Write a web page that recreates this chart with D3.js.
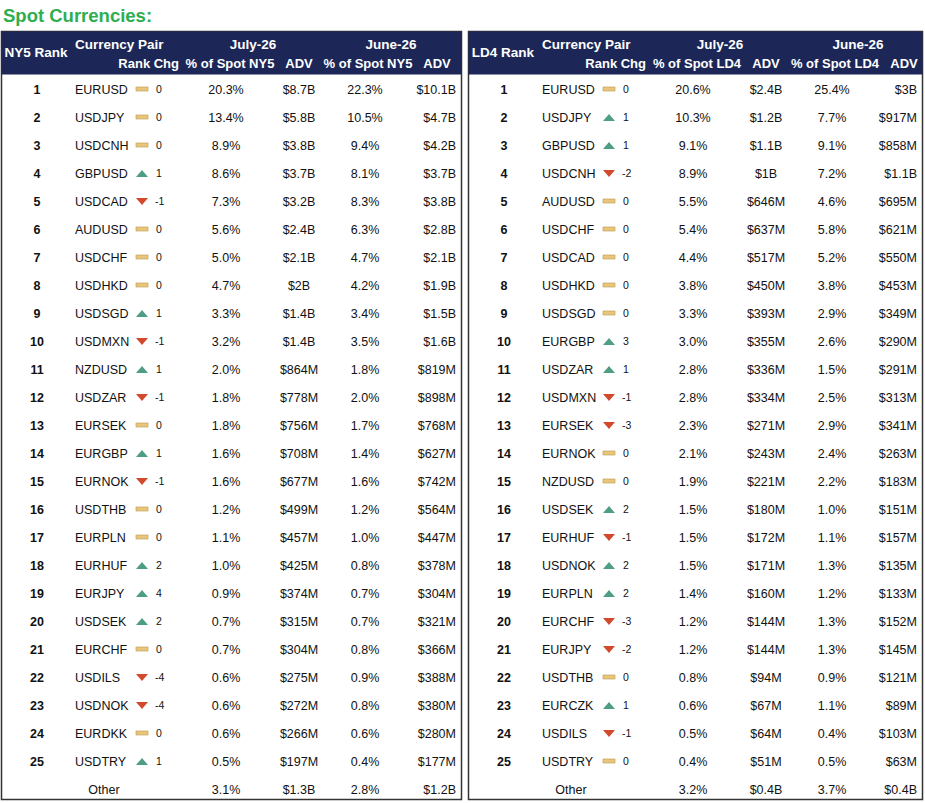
<!DOCTYPE html><html><head><meta charset="utf-8"><script src="https://cdn.jsdelivr.net/npm/d3@7"></script>
<style>body{margin:0;background:#fff}text{font-family:Arial,"Liberation Sans",sans-serif}</style></head><body><svg id="c" width="925" height="803"></svg>
<script>
const nyPairs=["EURUSD","USDJPY","USDCNH","GBPUSD","USDCAD","AUDUSD","USDCHF","USDHKD","USDSGD","USDMXN","NZDUSD","USDZAR","EURSEK","EURGBP","EURNOK","USDTHB","EURPLN","EURHUF","EURJPY","USDSEK","EURCHF","USDILS","USDNOK","EURDKK","USDTRY"];
const nyChg=[0,0,0,1,-1,0,0,0,1,-1,1,-1,0,1,-1,0,0,2,4,2,0,-4,-4,0,1];
const nyJulPct=["20.3%","13.4%","8.9%","8.6%","7.3%","5.6%","5.0%","4.7%","3.3%","3.2%","2.0%","1.8%","1.8%","1.6%","1.6%","1.2%","1.1%","1.0%","0.9%","0.7%","0.7%","0.6%","0.6%","0.6%","0.5%"];
const nyJulAdv=["$8.7B","$5.8B","$3.8B","$3.7B","$3.2B","$2.4B","$2.1B","$2B","$1.4B","$1.4B","$864M","$778M","$756M","$708M","$677M","$499M","$457M","$425M","$374M","$315M","$304M","$275M","$272M","$266M","$197M"];
const nyJunPct=["22.3%","10.5%","9.4%","8.1%","8.3%","6.3%","4.7%","4.2%","3.4%","3.5%","1.8%","2.0%","1.7%","1.4%","1.6%","1.2%","1.0%","0.8%","0.7%","0.7%","0.8%","0.9%","0.8%","0.6%","0.4%"];
const nyJunAdv=["$10.1B","$4.7B","$4.2B","$3.7B","$3.8B","$2.8B","$2.1B","$1.9B","$1.5B","$1.6B","$819M","$898M","$768M","$627M","$742M","$564M","$447M","$378M","$304M","$321M","$366M","$388M","$380M","$280M","$177M"];
const nyOther=["3.1%","$1.3B","2.8%","$1.2B"];
const ldPairs=["EURUSD","USDJPY","GBPUSD","USDCNH","AUDUSD","USDCHF","USDCAD","USDHKD","USDSGD","EURGBP","USDZAR","USDMXN","EURSEK","EURNOK","NZDUSD","USDSEK","EURHUF","USDNOK","EURPLN","EURCHF","EURJPY","USDTHB","EURCZK","USDILS","USDTRY"];
const ldChg=[0,1,1,-2,0,0,0,0,0,3,1,-1,-3,0,0,2,-1,2,2,-3,-2,0,1,-1,0];
const ldJulPct=["20.6%","10.3%","9.1%","8.9%","5.5%","5.4%","4.4%","3.8%","3.3%","3.0%","2.8%","2.8%","2.3%","2.1%","1.9%","1.5%","1.5%","1.5%","1.4%","1.2%","1.2%","0.8%","0.6%","0.5%","0.4%"];
const ldJulAdv=["$2.4B","$1.2B","$1.1B","$1B","$646M","$637M","$517M","$450M","$393M","$355M","$336M","$334M","$271M","$243M","$221M","$180M","$172M","$171M","$160M","$144M","$144M","$94M","$67M","$64M","$51M"];
const ldJunPct=["25.4%","7.7%","9.1%","7.2%","4.6%","5.8%","5.2%","3.8%","2.9%","2.6%","1.5%","2.5%","2.9%","2.4%","2.2%","1.0%","1.1%","1.3%","1.2%","1.3%","1.3%","0.9%","1.1%","0.4%","0.5%"];
const ldJunAdv=["$3B","$917M","$858M","$1.1B","$695M","$621M","$550M","$453M","$349M","$290M","$291M","$313M","$341M","$263M","$183M","$151M","$157M","$135M","$133M","$152M","$145M","$121M","$89M","$103M","$63M"];
const ldOther=["3.2%","$0.4B","3.7%","$0.4B"];

const svg=d3.select("#c");
svg.append("text").attr("x",3).attr("y",22).attr("fill","#2eae4f").attr("font-size",18.5).attr("font-weight","bold").text("Spot Currencies:");
const y=d3.scaleLinear().domain([1,25]).range([89,761]);
function panel(ox,w,loc,pairs,chg,jp,ja,np,na,oth){
  const g=svg.append("g").attr("transform",`translate(${ox},0)`);
  g.append("rect").attr("x",0.5).attr("y",31.5).attr("width",w).attr("height",768).attr("fill","#fff").attr("stroke","#333").attr("stroke-width",1.5);
  g.append("rect").attr("x",0.5).attr("y",31.5).attr("width",w).attr("height",43).attr("fill","#1c2757");
  const h=(x,yy,t,a,fs)=>g.append("text").attr("x",x).attr("y",yy).attr("text-anchor",a||"middle").attr("fill","#fff").attr("font-size",fs||13).attr("font-weight","bold").text(t);
  h(35,57,loc+" Rank","middle",13.5);h(74,49,"Currency Pair","start",13.5);h(178,68,"Rank Chg","end");
  h(252,49,"July-26","middle",13.5);h(229,68,"% of Spot "+loc);h(298,68,"ADV");
  h(390,49,"June-26","middle",13.5);h(367,68,"% of Spot "+loc);h(436,68,"ADV");
  const t=(x,yy,s,a,b)=>g.append("text").attr("x",x).attr("y",yy+4.5).attr("text-anchor",a||"middle").attr("font-size",12.5).attr("fill","#111").attr("font-weight",b?"bold":null).text(s);
  pairs.forEach((p,i)=>{const yy=y(i+1);
    t(36,yy,i+1,"middle",1);t(74,yy,p,"start");
    const c=chg[i],ix=141;
    if(c>0)g.append("path").attr("d",`M${ix-6},${yy+4}L${ix+6},${yy+4}L${ix},${yy-3}Z`).attr("fill","#4f9e84");
    else if(c<0)g.append("path").attr("d",`M${ix-6},${yy-3}L${ix+6},${yy-3}L${ix},${yy+4}Z`).attr("fill","#d2492c");
    else g.append("rect").attr("x",ix-6).attr("y",yy-2).attr("width",12).attr("height",4).attr("fill","#e8c77a").attr("stroke","#b89a50").attr("stroke-width",0.6);
    g.append("text").attr("x",c<0?154:155).attr("y",yy+4).attr("font-size",10.5).attr("fill","#111").text(c);
    t(225,yy,jp[i]);t(298,yy,ja[i]);t(364,yy,np[i]);t(w-5,yy,na[i],"end");
  });
  const yo=789;t(103,yo,"Other");t(225,yo,oth[0]);t(298,yo,oth[1]);t(364,yo,oth[2]);t(w-5,yo,oth[3],"end");
}
panel(1,460,"NY5",nyPairs,nyChg,nyJulPct,nyJulAdv,nyJunPct,nyJunAdv,nyOther);
panel(468,454,"LD4",ldPairs,ldChg,ldJulPct,ldJulAdv,ldJunPct,ldJunAdv,ldOther);
</script></body></html>
